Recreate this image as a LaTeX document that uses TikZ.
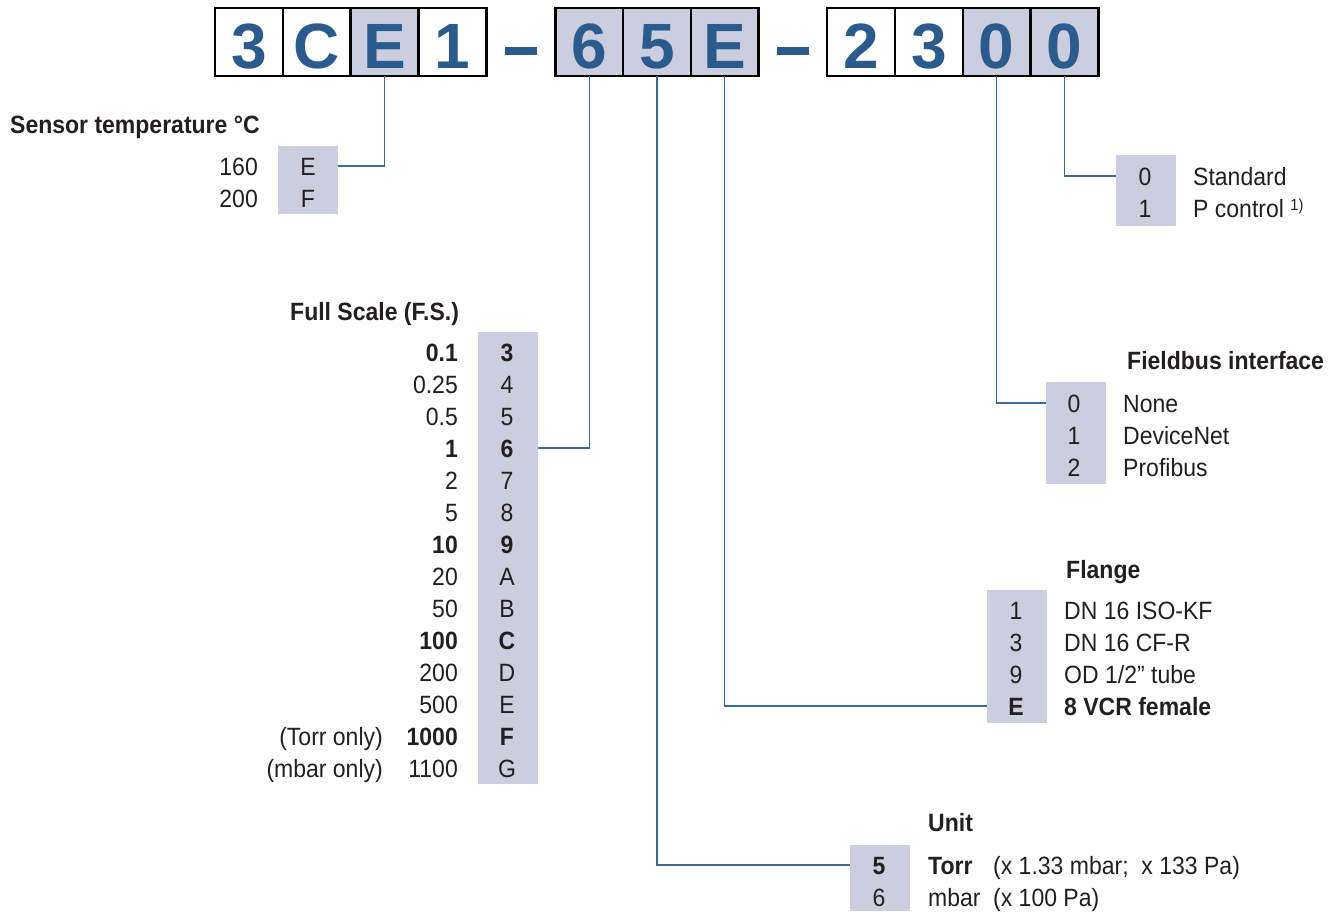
\documentclass[tikz,border=0pt]{standalone}
\usepackage{fontspec}
\setmainfont{Liberation Sans}[FakeStretch=0.92]
\newfontfamily\codefont{Liberation Sans}
\usetikzlibrary{positioning, calc}
\definecolor{boxfill}{RGB}{203,206,223}
\definecolor{linkblue}{RGB}{59,106,154}
\definecolor{codeblue}{RGB}{43,90,140}
\definecolor{ink}{RGB}{35,31,32}
\tikzset{
  codebox/.style={draw=black, line width=2.5pt, fill=white, minimum width=67.8pt, minimum height=68pt,
    inner sep=0pt, outer sep=0pt, text height=52pt, text depth=0pt,
    font=\codefont\bfseries\fontsize{64}{64}\selectfont, text=codeblue},
  codesel/.style={codebox, fill=boxfill},
  dashbar/.style={fill=codeblue, inner sep=0pt, minimum width=32pt, minimum height=8pt},
  optbox/.style={fill=boxfill, minimum width=60pt, inner sep=0pt, outer sep=0pt},
  entry/.style={text=ink, font=\fontsize{25}{30}\selectfont, inner sep=0pt, text height=18pt, text depth=0pt},
  heading/.style={entry, font=\bfseries\fontsize{25}{30}\selectfont, anchor=west},
  link/.style={draw=linkblue, line width=1.2pt},
}

\begin{document}
\begin{tikzpicture}[x=1pt, y=-1pt]
    \useasboundingbox (0,0) rectangle (1336,911);

    % Order code
    \node[codebox] (c1) at (249,42) {3};
    \node[codebox, right=0pt of c1] (c2) {C};
    \node[codesel, right=0pt of c2] (c3) {E};
    \node[codebox, right=0pt of c3] (c4) {1};
    \node[codesel, right=69pt of c4] (c5) {6};
    \node[codesel, right=0pt of c5] (c6) {5};
    \node[codesel, right=0pt of c6] (c7) {E};
    \node[codebox, right=68.5pt of c7] (c8) {2};
    \node[codebox, right=0pt of c8] (c9) {3};
    \node[codesel, right=0pt of c9] (c10) {0};
    \node[codesel, right=0pt of c10] (c11) {0};
    \node[dashbar] (dash1) at ($(c4.east)!0.5!(c5.west) + (0,9)$) {};
    \node[dashbar] (dash2) at ($(c7.east)!0.5!(c8.west) + (0,9)$) {};

    % Sensor temperature
    \node[heading] (tempHead) at (10,124) {Sensor temperature °C};
    \node[optbox, minimum height=68pt] (tBox) at (308,180) {};
    \foreach \v/\c [count=\i from 0] in {160/E, 200/F} {
        \node[entry] (t\i) at (308,{166+32*\i}) {\c};
        \node[entry, anchor=east] (tv\i) at (258,{166+32*\i}) {\v};
    }

    % Full scale
    \node[heading] (fsHead) at (290,311) {Full Scale (F.S.)};
    \node[optbox, minimum height=452pt] (fsBox) at (508,558) {};
    \foreach \v/\c [count=\i from 0] in {\textbf{0.1}/\textbf{3}, 0.25/4, 0.5/5, \textbf{1}/\textbf{6},
        2/7, 5/8, \textbf{10}/\textbf{9}, 20/A, 50/B, \textbf{100}/\textbf{C}, 200/D, 500/E,
        \textbf{1000}/\textbf{F}, 1100/G} {
        \node[entry] (fs\i) at (507,{352+32*\i}) {\c};
        \node[entry, anchor=east] (fv\i) at (458,{352+32*\i}) {\v};
    }
    \node[entry, anchor=east] (torrOnly) at (383,736) {(Torr only)};
    \node[entry, anchor=east] (mbarOnly) at (383,768) {(mbar only)};

    % Unit
    \node[heading] (uHead) at (928,822) {Unit};
    \node[optbox, minimum height=66pt] (uBox) at (880,878) {};
    \node[entry] (u0) at (879,865) {\textbf{5}};
    \node[entry] (u1) at (879,897) {6};
    \node[entry, anchor=west] (u0a) at (928,865) {\textbf{Torr}};
    \node[entry, anchor=west] (u0b) at (993,865) {(x 1.33 mbar;\ \ x 133 Pa)};
    \node[entry, anchor=west] (u1a) at (928,897) {mbar};
    \node[entry, anchor=west] (u1b) at (993,897) {(x 100 Pa)};

    % Flange
    \node[heading] (flHead) at (1066,569) {Flange};
    \node[optbox, minimum height=133pt] (flBox) at (1017,656.5) {};
    \foreach \c/\t [count=\i from 0] in {1/DN 16 ISO-KF, 3/DN 16 CF-R, 9/{OD 1/2” tube},
        \textbf{E}/\textbf{8 VCR female}} {
        \node[entry] (fl\i) at (1016,{610+32*\i}) {\c};
        \node[entry, anchor=west] (flt\i) at (1064,{610+32*\i}) {\t};
    }

    % Fieldbus interface
    \node[heading] (fbHead) at (1127,360) {Fieldbus interface};
    \node[optbox, minimum height=102pt] (fbBox) at (1075.5,433) {};
    \foreach \c/\t [count=\i from 0] in {0/None, 1/DeviceNet, 2/Profibus} {
        \node[entry] (fb\i) at (1074,{403+32*\i}) {\c};
        \node[entry, anchor=west] (fbt\i) at (1123,{403+32*\i}) {\t};
    }

    % Control
    \node[optbox, minimum height=71pt] (pcBox) at (1146,190.5) {};
    \node[entry] (pc0) at (1145,176) {0};
    \node[entry] (pc1) at (1145,208) {1};
    \node[entry, anchor=west] (pct0) at (1193,176) {Standard};
    \node[entry, anchor=west] (pct1) at (1193,208) {P control \raisebox{7pt}{\fontsize{16}{16}\selectfont 1)}};

    % Links
    \draw[link] (c3.south) |- (tBox.east |- t0);
    \draw[link] (c5.south) |- (fsBox.east |- fs3);
    \draw[link] (c6.south) |- (uBox.west |- u0);
    \draw[link] (c7.south) |- (flBox.west |- fl3);
    \draw[link] (c10.south) |- (fbBox.west |- fb0);
    \draw[link] (c11.south) |- (pcBox.west |- pc0);
\end{tikzpicture}
\end{document}
